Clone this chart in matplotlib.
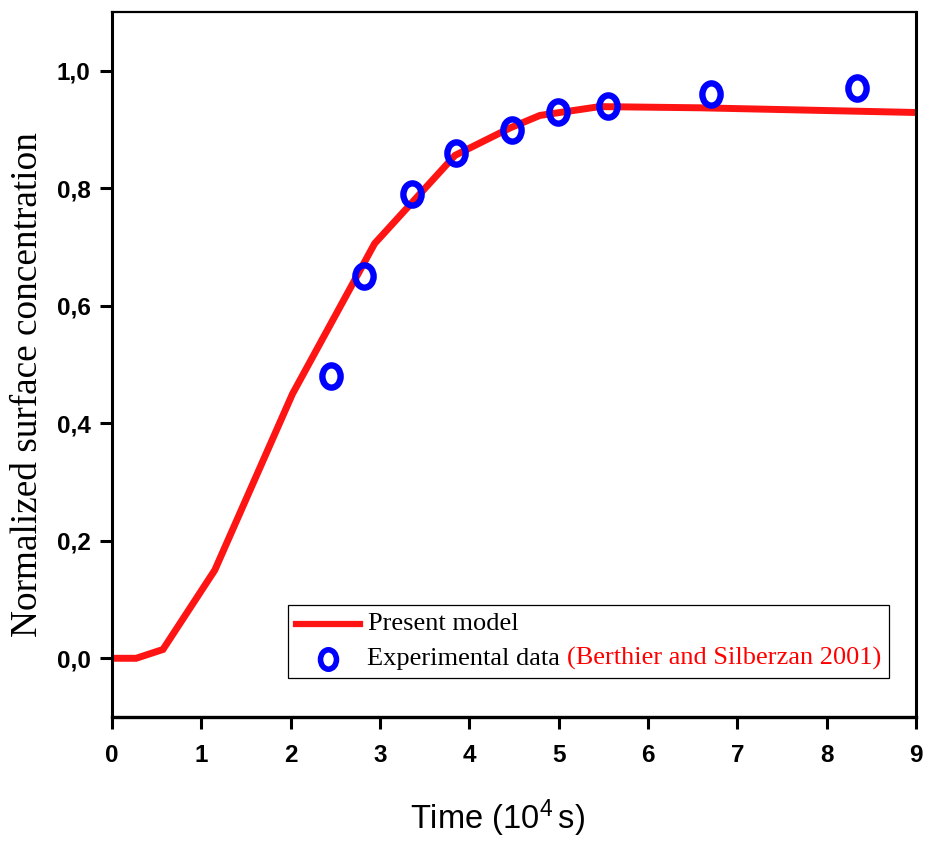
import numpy as np
import matplotlib
matplotlib.use('Agg')
import matplotlib.pyplot as plt
from matplotlib.path import Path
from matplotlib.lines import Line2D
from matplotlib.offsetbox import AnchoredOffsetbox, HPacker, VPacker, TextArea, DrawingArea

# Present model curve (time in 10^4 s, normalized concentration)
model_t = [0.0, 0.27, 0.57, 1.15, 2.02, 2.94, 3.84, 4.46, 4.79, 5.46, 6.58, 9.0]
model_c = [0.0, 0.0, 0.015, 0.15, 0.45, 0.706, 0.856, 0.903, 0.924, 0.939, 0.937, 0.929]

# Experimental points (Berthier and Silberzan 2001)
exp_t = [2.45, 2.82, 3.36, 3.85, 4.48, 4.99, 5.55, 6.71, 8.34]
exp_c = [0.48, 0.65, 0.79, 0.86, 0.90, 0.93, 0.94, 0.96, 0.97]

x_ticks = [0, 1, 2, 3, 4, 5, 6, 7, 8, 9]
y_ticks = [0.0, 0.2, 0.4, 0.6, 0.8, 1.0]

# slightly tall ellipse marker, like the original
circ = Path.unit_circle()
ellipse = Path(circ.vertices * np.array([0.82, 1.0]), circ.codes)

plt.rcParams['mathtext.fontset'] = 'custom'
plt.rcParams['mathtext.rm'] = 'Liberation Sans'
plt.rcParams['mathtext.default'] = 'regular'

fig = plt.figure(figsize=(9.36, 8.41), dpi=100)
ax = fig.add_axes([0.1197, 0.1474, 0.8589, 0.8383])

ax.plot(model_t, model_c, color='#ff1414', lw=5, solid_joinstyle='miter', zorder=2)
ax.plot(exp_t, exp_c, linestyle='none', marker=ellipse, markersize=16,
        markerfacecolor='none', markeredgecolor='#0000ff', markeredgewidth=4.6, zorder=3)

ax.set_xlim(0, 9)
ax.set_ylim(-0.1, 1.1)
ax.set_xticks(x_ticks)
ax.set_yticks(y_ticks)
ax.set_xticklabels([str(v) for v in x_ticks])
ax.set_yticklabels([f"{v:.1f}".replace('.', ',') for v in y_ticks])

for lab in ax.get_xticklabels() + ax.get_yticklabels():
    lab.set_family('Liberation Sans')
    lab.set_fontweight('bold')
    lab.set_fontsize(17.5)

ax.tick_params(direction='out', length=8.5, width=2.2, top=False, right=False)
ax.tick_params(axis='x', pad=11)
ax.tick_params(axis='y', pad=7)

ax.spines['left'].set_linewidth(2.2)
ax.spines['bottom'].set_linewidth(2.4)
ax.spines['right'].set_linewidth(2.2)
ax.spines['top'].set_linewidth(1.6)

ax.set_xlabel(r'Time (10$^{4}\,$s)', family='Liberation Sans', fontsize=23.5)
ax.xaxis.set_label_coords(0.479, -0.114)
ax.set_ylabel('Normalized surface concentration', family='Liberation Serif', fontsize=26.8)
ax.yaxis.set_label_coords(-0.083, 0.4716)

# legend with a two-coloured second label
tprop = dict(family='Liberation Serif', size=19)
da1 = DrawingArea(46, 14, 0, 0)
da1.add_artist(Line2D([0, 46], [7, 7], color='#ff1414', lw=4.5))
row1 = HPacker(children=[da1, TextArea('Present model', textprops=dict(color='black', **tprop))],
               align='center', pad=0, sep=6)
da2 = DrawingArea(46, 14, 0, 0)
da2.add_artist(Line2D([23], [7], linestyle='none', marker=ellipse, markersize=14,
                      markerfacecolor='none', markeredgecolor='#0000ff', markeredgewidth=4))
row2 = HPacker(children=[da2,
                         TextArea('Experimental data', textprops=dict(color='black', **tprop)),
                         TextArea('(Berthier and Silberzan 2001)', textprops=dict(color='red', **tprop))],
               align='center', pad=0, sep=5)
box = VPacker(children=[row1, row2], align='left', pad=0, sep=9)
anch = AnchoredOffsetbox(loc='lower left', child=box, pad=0.3, borderpad=0,
                         bbox_to_anchor=(0.219, 0.055), bbox_transform=ax.transAxes,
                         frameon=True, prop=dict(size=19))
anch.patch.set_boxstyle('square', pad=0)
anch.patch.set_edgecolor('black')
anch.patch.set_linewidth(0.9)
ax.add_artist(anch)

fig.savefig('out.png', dpi=100)
